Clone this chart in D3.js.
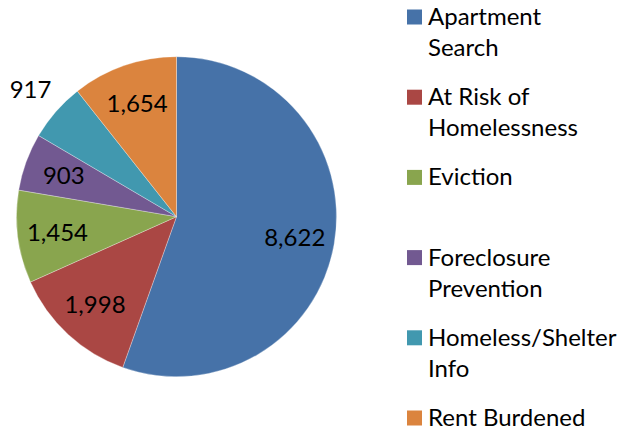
<!DOCTYPE html>
<html>
<head>
<meta charset="utf-8">
<script src="https://cdn.jsdelivr.net/npm/d3@7"></script>
<style>
  html, body { margin: 0; padding: 0; background: #fff; }
  svg { display: block; }
  text { font-family: Lato, "Open Sans", sans-serif; fill: #000; }
</style>
</head>
<body>
<svg id="chart" width="624" height="435"></svg>
<script>
const categories = ["Apartment Search", "At Risk of Homelessness", "Eviction", "Foreclosure Prevention", "Homeless/Shelter Info", "Rent Burdened"];
const legendLines = [["Apartment", "Search"], ["At Risk of", "Homelessness"], ["Eviction"], ["Foreclosure", "Prevention"], ["Homeless/Shelter", "Info"], ["Rent Burdened"]];
const values = [8622, 1998, 1454, 903, 917, 1654];
const colors = ["#4672A8", "#AA4744", "#89A54E", "#725991", "#4198AF", "#DB843E"];

const W = 624, H = 435;
const cx = 176.5, cy = 216.7, R = 160;
const svg = d3.select("#chart");

const data = categories.map((c, i) => ({ name: c, value: values[i], color: colors[i], lines: legendLines[i] }));

const pie = d3.pie().value(d => d.value).sort(null).startAngle(0).endAngle(2 * Math.PI);
const arcs = pie(data);
const arc = d3.arc().innerRadius(0).outerRadius(R);
const labelArc = d3.arc().innerRadius(R * 0.75).outerRadius(R * 0.75);
const outerLabelArc = d3.arc().innerRadius(R * 1.21).outerRadius(R * 1.21);

const g = svg.append("g").attr("transform", `translate(${cx},${cy})`);
g.selectAll("path.slice").data(arcs).join("path")
  .attr("class", "slice")
  .attr("d", arc)
  .attr("fill", d => d.data.color)
  .attr("stroke", "rgba(255,255,255,0.5)")
  .attr("stroke-width", 0.6);

const fmt = d3.format(",");
const labelSize = 24;
const outside = d => d.data.name === "Homeless/Shelter Info";
g.selectAll("text.lbl").data(arcs).join("text")
  .attr("class", "lbl")
  .attr("text-anchor", "middle")
  .attr("font-size", labelSize)
  .attr("x", d => (outside(d) ? outerLabelArc : labelArc).centroid(d)[0])
  .attr("y", d => (outside(d) ? outerLabelArc : labelArc).centroid(d)[1] + labelSize * 0.36)
  .text(d => fmt(d.data.value));

// Legend
const legX = 407, sq = 15, textX = 428, rowStep = 80.2, lineStep = 31, legTop = 9.5;
const leg = svg.append("g");
data.forEach((d, i) => {
  const y0 = legTop + i * rowStep;
  leg.append("rect").attr("x", legX).attr("y", y0).attr("width", sq).attr("height", sq).attr("fill", d.color);
  const t = leg.append("text").attr("font-size", 24);
  d.lines.forEach((ln, j) => {
    t.append("tspan").attr("x", textX).attr("y", y0 + 15.5 + j * lineStep).text(ln);
  });
});
</script>
</body>
</html>
